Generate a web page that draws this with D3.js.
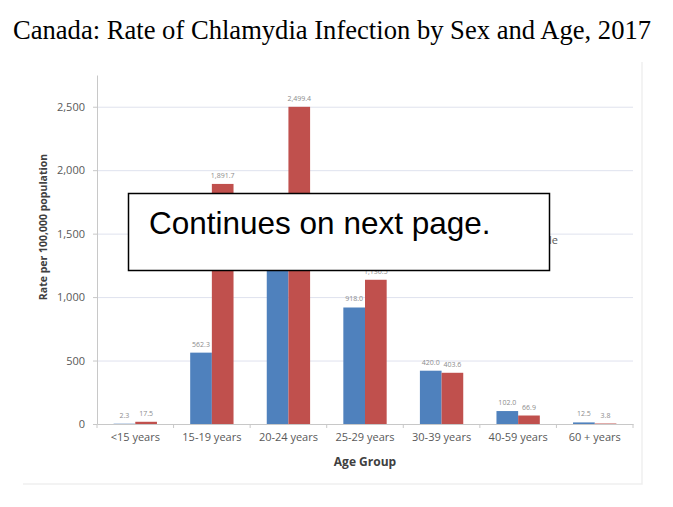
<!DOCTYPE html>
<html>
<head>
<meta charset="utf-8">
<script src="https://cdn.jsdelivr.net/npm/d3@7"></script>
<style>
  body { margin: 0; background: #fff; }
  svg { display: block; }
</style>
</head>
<body>
<svg id="chart" width="673" height="507"></svg>
<script>
// data
const ageGroups = ["<15 years", "15-19 years", "20-24 years", "25-29 years", "30-39 years", "40-59 years", "60 + years"]
const sexes = ["Male", "Female"]
const maleRates = [2.3, 562.3, 1467.6, 918.0, 420.0, 102.0, 12.5]
const femaleRates = [17.5, 1891.7, 2499.4, 1136.5, 403.6, 66.9, 3.8]
const yTicks = [0, 500, 1000, 1500, 2000, 2500]

const colors = { Male: "#4f81bd", Female: "#c0504d" }

const svg = d3.select("#chart")

const rows = ageGroups.map((g, i) => ({ group: g, Male: maleRates[i], Female: femaleRates[i] }))

var x0 = d3.scaleBand()
  .domain(ageGroups)
  .range([97, 633])

var x1 = d3.scaleBand()
  .domain(sexes)
  .range([x0.bandwidth() * 0.217, x0.bandwidth() * 0.783])

var y = d3.scaleLinear()
  .domain([0, 2750])
  .range([424, 75])

var fmt = d3.format(",.1f")

// note box area, the chart sits underneath it
const note = { x: 128.5, y: 193.5, w: 421, h: 77 }

// title
svg.append("text")
  .attr("x", 332)
  .attr("y", 39)
  .attr("text-anchor", "middle")
  .style("font-family", "'Liberation Serif', 'Times New Roman', serif")
  .style("font-size", "26.6px")
  .attr("fill", "#000")
  .text("Canada: Rate of Chlamydia Infection by Sex and Age, 2017")

// faint chart frame
svg.append("path")
  .attr("d", "M642,62V484H23")
  .attr("fill", "none")
  .attr("stroke", "#efefef")
  .attr("stroke-width", 1.5)

// gridlines
svg.append("g")
  .selectAll("line")
  .data(yTicks.filter(d => d > 0))
  .enter()
  .append("line")
    .attr("x1", 97)
    .attr("x2", 633)
    .attr("y1", d => y(d) + 0.5)
    .attr("y2", d => y(d) + 0.5)
    .attr("stroke", "#dfe2ee")
    .attr("stroke-width", 1)

// y axis
var yAxis = svg.append("g")
  .attr("transform", "translate(97,0)")
  .call(d3.axisLeft(y).tickValues(yTicks).tickFormat(d3.format(",")).tickSizeInner(4).tickSizeOuter(0))

yAxis.select(".domain").attr("stroke", "#c8c8c8")
yAxis.selectAll(".tick line").attr("stroke", "#c8c8c8")
yAxis.selectAll(".tick text")
  .attr("x", -12)
  .attr("fill", "#595959")
  .style("font-family", "'Open Sans', sans-serif")
  .style("font-size", "11px")

// x axis
var xAxis = svg.append("g")
  .attr("transform", "translate(0,424)")
  .call(d3.axisBottom(x0).tickSize(0))

xAxis.select(".domain").attr("stroke", "#c8c8c8")
xAxis.selectAll(".tick text")
  .attr("dy", "1.3em")
  .attr("fill", "#595959")
  .style("font-family", "'Open Sans', sans-serif")
  .style("font-size", "11px")

// boundary ticks between groups
svg.append("g")
  .selectAll("line")
  .data(ageGroups.concat(["end"]))
  .enter()
  .append("line")
    .attr("x1", (d, i) => i < ageGroups.length ? x0(d) : x0.range()[1])
    .attr("x2", (d, i) => i < ageGroups.length ? x0(d) : x0.range()[1])
    .attr("y1", 424)
    .attr("y2", 428)
    .attr("stroke", "#c8c8c8")

// bars
var groups = svg.append("g")
  .selectAll("g")
  .data(rows)
  .enter()
  .append("g")
    .attr("transform", d => "translate(" + x0(d.group) + ",0)")

groups.selectAll("rect")
  .data(d => sexes.map(s => ({ sex: s, value: d[s] })))
  .enter()
  .append("rect")
    .attr("x", d => x1(d.sex))
    .attr("width", x1.bandwidth())
    .attr("y", d => y(d.value))
    .attr("height", d => y(0) - y(d.value))
    .attr("fill", d => colors[d.sex])

// value labels, skipping the ones fully covered by the note box
groups.selectAll("text")
  .data(d => sexes.map(s => ({ sex: s, value: d[s], cx: x0(d.group) + x1(s) + x1.bandwidth() / 2 })))
  .enter()
  .filter(d => {
    var ly = y(d.value) - 6
    return !(d.cx > note.x && d.cx < note.x + note.w && ly - 6 > note.y && ly < note.y + note.h)
  })
  .append("text")
    .attr("x", d => x1(d.sex) + x1.bandwidth() / 2)
    .attr("y", d => y(d.value) - 6)
    .attr("text-anchor", "middle")
    .attr("fill", "#8c8c8c")
    .style("font-family", "'Open Sans', sans-serif")
    .style("font-size", "7px")
    .text(d => fmt(d.value))

// axis titles
svg.append("text")
  .attr("transform", "translate(47,227) rotate(-90)")
  .attr("text-anchor", "middle")
  .attr("fill", "#404040")
  .style("font-family", "'Open Sans', sans-serif")
  .style("font-weight", "bold")
  .style("font-size", "10.5px")
  .text("Rate per 100,000 population")

svg.append("text")
  .attr("x", 365)
  .attr("y", 466)
  .attr("text-anchor", "middle")
  .attr("fill", "#404040")
  .style("font-family", "'Open Sans', sans-serif")
  .style("font-weight", "bold")
  .style("font-size", "12px")
  .text("Age Group")

// legend in one row, only the tail of "Female" shows past the note box
var legend = svg.append("g")
  .attr("transform", "translate(558,244)")

legend.append("text")
  .attr("text-anchor", "end")
  .attr("fill", "#595959")
  .style("font-family", "'Open Sans', sans-serif")
  .style("font-size", "11px")
  .text("Female")

legend.append("rect")
  .attr("x", -50).attr("y", -8).attr("width", 7).attr("height", 7)
  .attr("fill", colors.Female)

legend.append("rect")
  .attr("x", -95).attr("y", -8).attr("width", 7).attr("height", 7)
  .attr("fill", colors.Male)

// note box on top
svg.append("rect")
  .attr("x", note.x)
  .attr("y", note.y)
  .attr("width", note.w)
  .attr("height", note.h)
  .attr("fill", "#fff")
  .attr("stroke", "#000")
  .attr("stroke-width", 1.5)

svg.append("text")
  .attr("x", 149)
  .attr("y", 234)
  .attr("fill", "#000")
  .style("font-family", "'Liberation Sans', Arial, sans-serif")
  .style("font-size", "31.5px")
  .text("Continues on next page.")
</script>
</body>
</html>
